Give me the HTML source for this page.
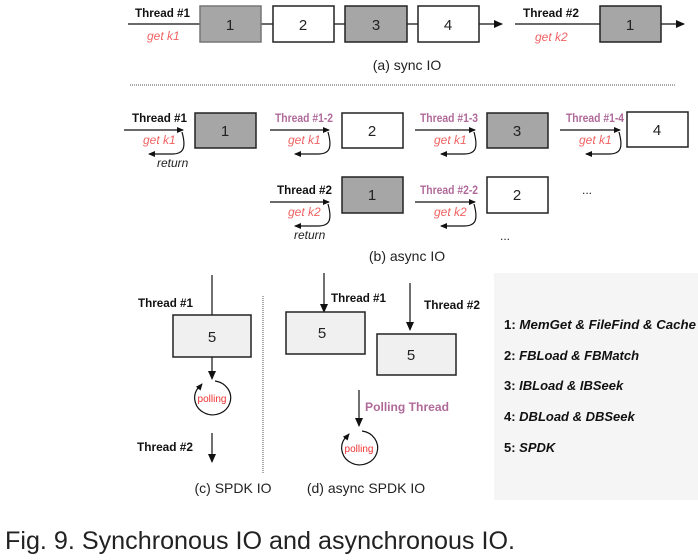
<!DOCTYPE html>
<html><head><meta charset="utf-8"><style>
html,body{margin:0;padding:0;background:#fff;}
svg{display:block;font-family:"Liberation Sans",Arial,sans-serif;}
.b{font-weight:bold;font-size:12px;fill:#111;}
.r{font-style:italic;font-size:12px;fill:#f06262;}
.p{font-weight:bold;font-size:12px;fill:#b06a9a;}
.n{font-size:15px;fill:#222;text-anchor:middle;}
.c{font-size:14px;fill:#222;text-anchor:middle;}
.l{font-weight:bold;font-size:13px;fill:#111;}
</style></head><body>
<svg width="698" height="560" viewBox="0 0 698 560" xmlns="http://www.w3.org/2000/svg">
<defs>
<marker id="a" markerWidth="10" markerHeight="10" refX="8" refY="5" orient="auto" markerUnits="userSpaceOnUse"><path d="M0,1 L9,5 L0,9 z" fill="#111"/></marker>
<marker id="s" markerWidth="8" markerHeight="8" refX="6" refY="4" orient="auto" markerUnits="userSpaceOnUse"><path d="M0,1 L7,4 L0,7 z" fill="#111"/></marker>
</defs>
<!-- (a) sync -->
<line x1="128" y1="24" x2="502" y2="24" stroke="#111" stroke-width="1.2" marker-end="url(#a)"/>
<rect x="200" y="6" width="61" height="36" fill="#a6a6a6" stroke="#777" stroke-width="1.5"/>
<rect x="273" y="6" width="61" height="36" fill="#fff" stroke="#222" stroke-width="1.5"/>
<rect x="345" y="6" width="62" height="36" fill="#a6a6a6" stroke="#222" stroke-width="1.5"/>
<rect x="418" y="6" width="61" height="36" fill="#fff" stroke="#222" stroke-width="1.5"/>
<text class="n" x="230" y="30">1</text><text class="n" x="303" y="30">2</text><text class="n" x="376" y="30">3</text><text class="n" x="448" y="30">4</text>
<text class="b" x="135" y="17" textLength="55" lengthAdjust="spacingAndGlyphs">Thread #1</text>
<text class="r" x="147" y="40">get k1</text>
<line x1="515" y1="24" x2="684" y2="24" stroke="#111" stroke-width="1.2" marker-end="url(#a)"/>
<rect x="600" y="6" width="61" height="36" fill="#a6a6a6" stroke="#222" stroke-width="1.5"/>
<text class="n" x="630" y="30">1</text>
<text class="b" x="523" y="17" textLength="56" lengthAdjust="spacingAndGlyphs">Thread #2</text>
<text class="r" x="535" y="41">get k2</text>
<text class="c" x="407" y="70">(a) sync IO</text>
<line x1="130" y1="85" x2="675" y2="85" stroke="#555" stroke-width="1" stroke-dasharray="1,1"/>
<!-- (b) async row1 -->
<rect x="195" y="113" width="61" height="35" fill="#a6a6a6" stroke="#222" stroke-width="1.5"/>
<rect x="342" y="113" width="61" height="35" fill="#fff" stroke="#222" stroke-width="1.5"/>
<rect x="487" y="113" width="61" height="35" fill="#a6a6a6" stroke="#222" stroke-width="1.5"/>
<rect x="627" y="112" width="61" height="35" fill="#fff" stroke="#222" stroke-width="1.5"/>
<text class="n" x="225" y="136">1</text><text class="n" x="372" y="136">2</text><text class="n" x="517" y="136">3</text><text class="n" x="657" y="135">4</text>
<g fill="none" stroke="#111" stroke-width="1.2">
<line x1="124" y1="130" x2="183" y2="130" marker-end="url(#s)"/>
<path d="M182,132 C187,150 182,154 172,154 L149,154" marker-end="url(#s)"/>
<line x1="270" y1="130" x2="329" y2="130" marker-end="url(#s)"/>
<path d="M328,132 C333,150 328,154 318,154 L295,154" marker-end="url(#s)"/>
<line x1="415" y1="130" x2="475" y2="130" marker-end="url(#s)"/>
<path d="M474,132 C479,150 474,154 464,154 L441,154" marker-end="url(#s)"/>
<line x1="560" y1="130" x2="620" y2="130" marker-end="url(#s)"/>
<path d="M619,132 C624,150 619,154 609,154 L586,154" marker-end="url(#s)"/>
<line x1="270" y1="202" x2="329" y2="202" marker-end="url(#s)"/>
<path d="M328,204 C333,222 328,226 318,226 L295,226" marker-end="url(#s)"/>
<line x1="415" y1="202" x2="475" y2="202" marker-end="url(#s)"/>
<path d="M474,204 C479,222 474,226 464,226 L441,226" marker-end="url(#s)"/>
</g>
<text class="b" x="132" y="122" textLength="55" lengthAdjust="spacingAndGlyphs">Thread #1</text>
<text class="r" x="143" y="144">get k1</text>
<text x="157" y="167" font-size="12" font-style="italic" fill="#222">return</text>
<text class="p" x="275" y="122" textLength="58" lengthAdjust="spacingAndGlyphs">Thread #1-2</text><text class="r" x="288" y="144">get k1</text>
<text class="p" x="420" y="122" textLength="58" lengthAdjust="spacingAndGlyphs">Thread #1-3</text><text class="r" x="434" y="144">get k1</text>
<text class="p" x="566" y="122" textLength="58" lengthAdjust="spacingAndGlyphs">Thread #1-4</text><text class="r" x="579" y="144">get k1</text>
<!-- row2 -->
<rect x="342" y="177" width="61" height="36" fill="#a6a6a6" stroke="#222" stroke-width="1.5"/>
<rect x="487" y="177" width="61" height="36" fill="#fff" stroke="#222" stroke-width="1.5"/>
<text class="n" x="372" y="200">1</text><text class="n" x="517" y="200">2</text>
<text class="b" x="277" y="194" textLength="55" lengthAdjust="spacingAndGlyphs">Thread #2</text>
<text class="r" x="288" y="216">get k2</text>
<text x="294" y="239" font-size="12" font-style="italic" fill="#222">return</text>
<text class="p" x="420" y="194" textLength="58" lengthAdjust="spacingAndGlyphs">Thread #2-2</text><text class="r" x="434" y="216">get k2</text>
<text x="582" y="194" font-size="12" fill="#222">...</text>
<text x="500" y="240" font-size="12" fill="#222">...</text>
<text class="c" x="407" y="261">(b) async IO</text>
<!-- (c) -->
<line x1="212" y1="275" x2="212" y2="315" stroke="#111" stroke-width="1.2"/>
<rect x="173" y="315" width="78" height="42" fill="#f0f0f0" stroke="#222" stroke-width="1.5"/>
<text class="n" x="212" y="342">5</text>
<text class="b" x="138" y="307" textLength="55" lengthAdjust="spacingAndGlyphs">Thread #1</text>
<line x1="212" y1="357" x2="212" y2="379" stroke="#111" stroke-width="1.2" marker-end="url(#a)"/>
<path d="M215,381 A18,17 0 1 1 198,388" fill="none" stroke="#111" stroke-width="1.2"/>
<path d="M198,389 L202,384" fill="none" stroke="#111" stroke-width="1.2" marker-end="url(#s)"/>
<text x="212" y="402" font-size="10" fill="#f03030" text-anchor="middle">polling</text>
<text class="b" x="137" y="451" textLength="56" lengthAdjust="spacingAndGlyphs">Thread #2</text>
<line x1="212" y1="433" x2="212" y2="462" stroke="#111" stroke-width="1.2" marker-end="url(#a)"/>
<text class="c" x="233" y="493">(c) SPDK IO</text>
<line x1="263" y1="296" x2="263" y2="473" stroke="#555" stroke-width="1" stroke-dasharray="1,1"/>
<!-- (d) -->
<line x1="324" y1="273" x2="324" y2="312" stroke="#111" stroke-width="1.2" marker-end="url(#a)"/>
<text class="b" x="331" y="302" textLength="55" lengthAdjust="spacingAndGlyphs">Thread #1</text>
<rect x="286" y="312" width="79" height="42" fill="#f0f0f0" stroke="#222" stroke-width="1.5"/>
<text class="n" x="322" y="338">5</text>
<line x1="410" y1="283" x2="410" y2="330" stroke="#111" stroke-width="1.2" marker-end="url(#a)"/>
<text class="b" x="424" y="309" textLength="56" lengthAdjust="spacingAndGlyphs">Thread #2</text>
<rect x="377" y="334" width="79" height="41" fill="#f0f0f0" stroke="#222" stroke-width="1.5"/>
<text class="n" x="411" y="360">5</text>
<line x1="359" y1="390" x2="359" y2="426" stroke="#111" stroke-width="1.2" marker-end="url(#a)"/>
<text class="p" x="365" y="411" textLength="84" lengthAdjust="spacingAndGlyphs">Polling Thread</text>
<path d="M362,431 A18,17 0 1 1 345,438" fill="none" stroke="#111" stroke-width="1.2"/>
<path d="M345,439 L349,434" fill="none" stroke="#111" stroke-width="1.2" marker-end="url(#s)"/>
<text x="359" y="452" font-size="10" fill="#f03030" text-anchor="middle">polling</text>
<text class="c" x="366" y="493">(d) async SPDK IO</text>
<!-- legend -->
<rect x="494" y="273" width="204" height="227" fill="#f5f5f5"/>
<text class="l" x="504" y="329" textLength="192" lengthAdjust="spacingAndGlyphs">1: <tspan font-style="italic">MemGet &amp; FileFind &amp; Cache</tspan></text>
<text class="l" x="504" y="360">2: <tspan font-style="italic">FBLoad &amp; FBMatch</tspan></text>
<text class="l" x="504" y="390">3: <tspan font-style="italic">IBLoad &amp; IBSeek</tspan></text>
<text class="l" x="504" y="421">4: <tspan font-style="italic">DBLoad &amp; DBSeek</tspan></text>
<text class="l" x="504" y="452">5: <tspan font-style="italic">SPDK</tspan></text>
<text x="5" y="549" font-size="25" fill="#222" textLength="510" lengthAdjust="spacingAndGlyphs">Fig. 9. Synchronous IO and asynchronous IO.</text>
</svg>
</body></html>
